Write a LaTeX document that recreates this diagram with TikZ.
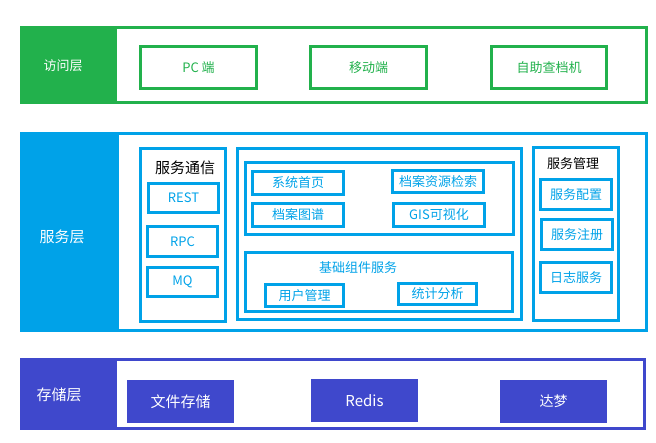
\documentclass[tikz,border=0pt]{standalone}
\usepackage{fontspec}
\newfontfamily\cjk{Noto Sans CJK SC}
\definecolor{accgreen}{HTML}{22B14C}
\definecolor{svcblue}{HTML}{00A2E8}
\definecolor{stoblue}{HTML}{3F48CC}

\begin{document}
\begin{tikzpicture}[x=1pt, y=-1pt,
    txt/.style={font=\cjk\fontsize{13}{16}\selectfont, inner sep=0pt},
    bigtxt/.style={font=\cjk\fontsize{15}{18}\selectfont, inner sep=0pt},
    layer/.style={draw=#1, line width=3pt, inner sep=0pt},
    sidebar/.style={fill=#1, inner sep=0pt, anchor=north west},
    gbox/.style={txt, draw=accgreen, text=accgreen, line width=3pt, minimum width=116, minimum height=42},
    bbox/.style={txt, draw=svcblue, text=svcblue, line width=3pt},
    sbox/.style={bigtxt, fill=stoblue, text=white, minimum width=107, minimum height=43}]

    \useasboundingbox (0,0) rectangle (656,443);

    % Access layer
    \node[layer=accgreen, minimum width=625, minimum height=75] (access) at (334,65) {};
    \node[sidebar=accgreen, minimum width=97, minimum height=78] (accessbar) at (20,26) {};
    \node[txt, text=white] (accesslbl) at (63,66) {访问层};
    \node[gbox] (pc) at (198.5,67.5) {PC 端};
    \node[gbox] (mobile) at (368.5,67.5) {移动端};
    \node[gbox, minimum width=115] (kiosk) at (549,67.5) {自助查档机};

    % Service layer
    \node[layer=svcblue, minimum width=625, minimum height=197] (service) at (334,232) {};
    \node[sidebar=svcblue, minimum width=99, minimum height=200] (servicebar) at (20,132) {};
    \node[bigtxt, text=white] (servicelbl) at (62,237) {服务层};

    % Service communication
    \node[bbox, minimum width=85, minimum height=173] (comm) at (183,235) {};
    \node[bigtxt] (commtitle) at (185,168) {服务通信};
    \node[bbox, minimum width=70, minimum height=29] (rest) at (183.5,198) {REST};
    \node[bbox, minimum width=70, minimum height=30] (rpc) at (182.5,241.5) {RPC};
    \node[bbox, minimum width=70, minimum height=29] (mq) at (182.5,282) {MQ};

    % Business services
    \node[bbox, minimum width=284, minimum height=171] (business) at (379.5,234) {};
    \node[bbox, minimum width=268, minimum height=72] (apps) at (379.5,198.5) {};
    \node[bbox, minimum width=91, minimum height=23] (home) at (298,183) {系统首页};
    \node[bbox, minimum width=91, minimum height=23] (graph) at (298,215) {档案图谱};
    \node[bbox, minimum width=91, minimum height=22] (search) at (438,181.5) {档案资源检索};
    \node[bbox, minimum width=91, minimum height=23] (gis) at (439,215) {GIS可视化};

    % Base components
    \node[bbox, minimum width=267, minimum height=59] (base) at (379,282) {};
    \node[txt, text=svcblue] (basetitle) at (358,268) {基础组件服务};
    \node[bbox, minimum width=78, minimum height=22] (users) at (304.5,295.5) {用户管理};
    \node[bbox, minimum width=78, minimum height=21] (stats) at (437.5,294) {统计分析};

    % Service management
    \node[bbox, minimum width=85, minimum height=173] (manage) at (576,234) {};
    \node[txt] (managetitle) at (573,164) {服务管理};
    \node[bbox, minimum width=71, minimum height=30] (config) at (576,194.5) {服务配置};
    \node[bbox, minimum width=71, minimum height=30] (registry) at (577,234.5) {服务注册};
    \node[bbox, minimum width=71, minimum height=30] (logs) at (576,277.5) {日志服务};

    % Storage layer
    \node[layer=stoblue, minimum width=623, minimum height=69] (storage) at (333,394) {};
    \node[sidebar=stoblue, minimum width=97, minimum height=72] (storagebar) at (20,358) {};
    \node[bigtxt, text=white] (storagelbl) at (59,395) {存储层};
    \node[sbox] (files) at (180.5,401.5) {文件存储};
    \node[sbox] (redis) at (364.5,400.5) {Redis};
    \node[sbox, font=\cjk\fontsize{14}{17}\selectfont] (dameng) at (553.5,401.5) {达梦};
\end{tikzpicture}
\end{document}
